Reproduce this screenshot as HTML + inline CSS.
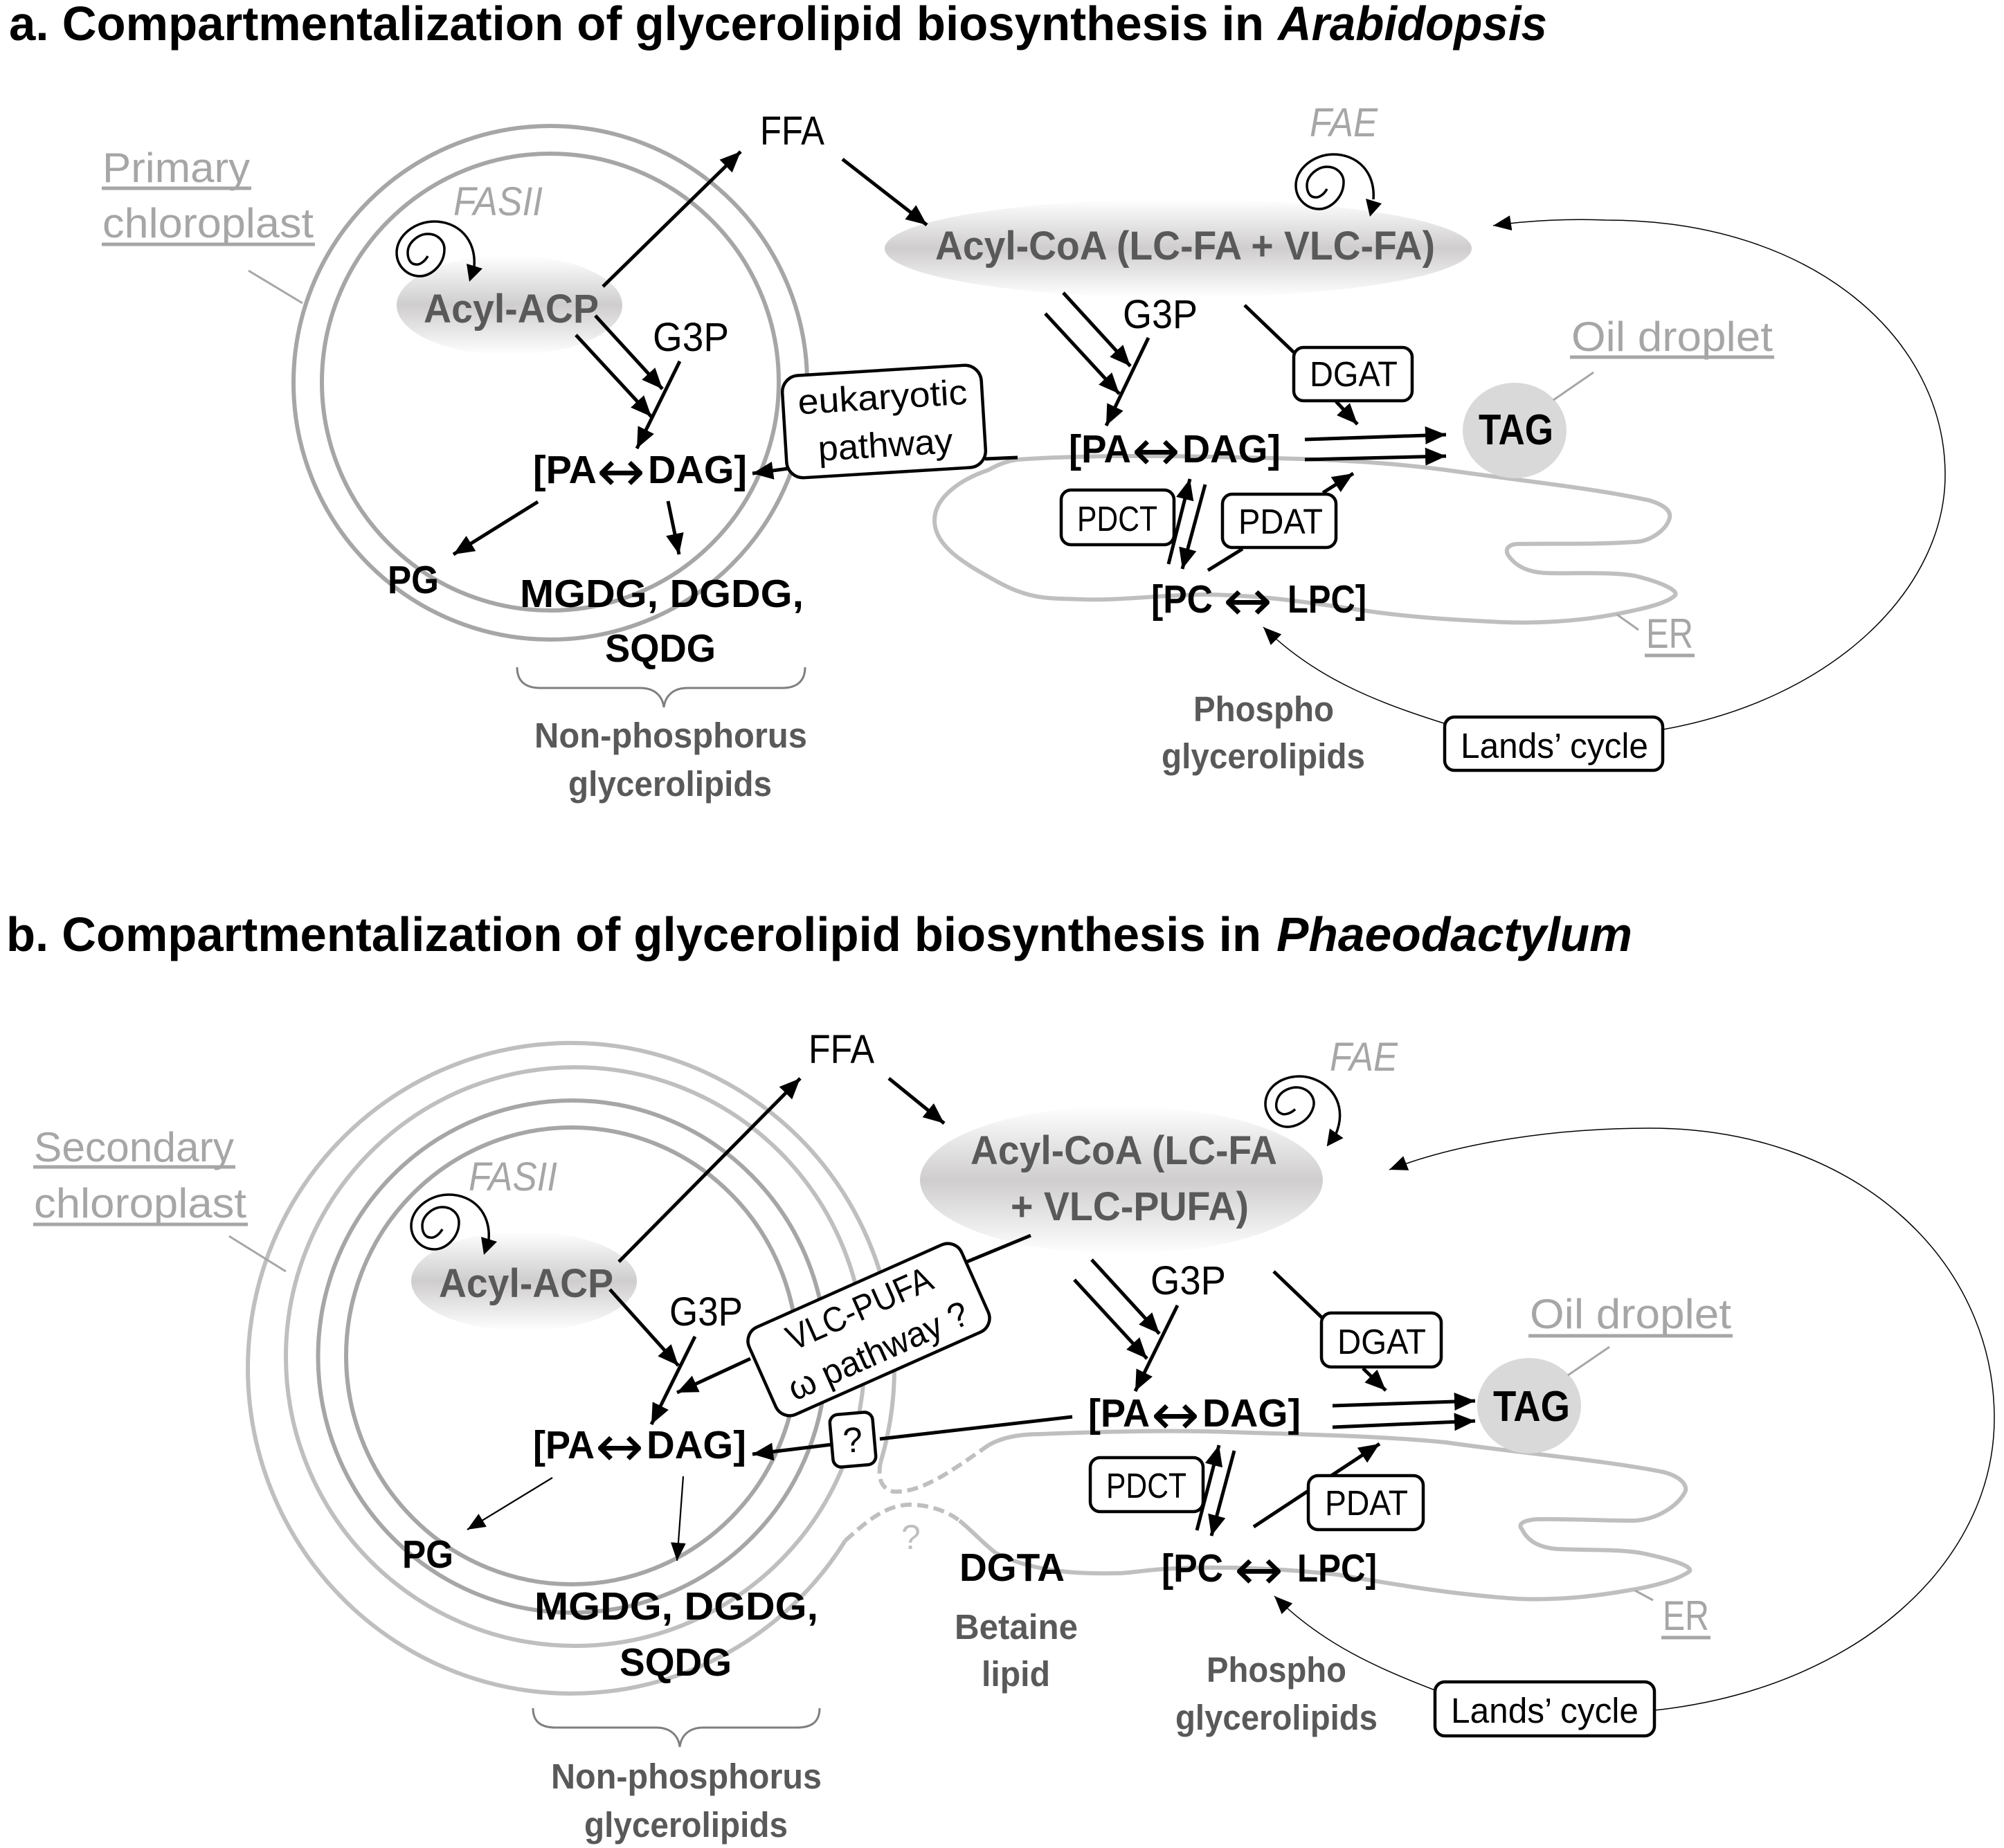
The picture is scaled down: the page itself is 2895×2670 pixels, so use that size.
<!DOCTYPE html>
<html><head><meta charset="utf-8"><style>
html,body{margin:0;padding:0;background:#fff}
svg{display:block}
text{font-family:"Liberation Sans",sans-serif}
.r{font-size:58px;fill:#000}
.b{font-size:57px;font-weight:700;fill:#000}
.ar{font-size:82px;fill:#000;font-family:"DejaVu Sans",sans-serif}
.h{font-size:70px;font-weight:700;fill:#000}
.hi{font-size:70px;font-weight:700;font-style:italic;fill:#000}
.gb{font-size:58px;font-weight:700;fill:#595959}
.gs{font-size:51px;font-weight:700;fill:#595959}
.l{font-size:60px;fill:#a6a6a6}
.i{font-size:58px;font-style:italic;fill:#a6a6a6}
.bx{font-size:51px;fill:#000}
.tag{font-size:62px;font-weight:700;fill:#000}
.a{stroke:#000;stroke-width:5;fill:none;marker-end:url(#m)}
.t{stroke:#000;stroke-width:2.2;fill:none;marker-end:url(#m2)}
.n{stroke:#000;stroke-width:5;fill:none}
.c{stroke:#000;stroke-width:1.5;fill:none;marker-end:url(#m2)}
.u{stroke:#a6a6a6;stroke-width:5;fill:none}
.lead{stroke:#a6a6a6;stroke-width:3;fill:none}
.box{fill:#fff;stroke:#000;stroke-width:4.5}
.er{fill:none;stroke:#bfbfbf;stroke-width:6;stroke-linejoin:round}
.dash{fill:none;stroke:#bfbfbf;stroke-width:6;stroke-dasharray:16 8}
.brace{fill:none;stroke:#7f7f7f;stroke-width:3}
.sp{fill:none;stroke:#000;stroke-width:3.5}
</style></head><body>
<svg xmlns="http://www.w3.org/2000/svg" width="2895" height="2670" viewBox="0 0 2895 2670">
<defs>
<marker id="m" markerUnits="userSpaceOnUse" markerWidth="30" markerHeight="26" refX="30" refY="13" orient="auto"><path d="M0,0L30,13L0,26z" fill="#000"/></marker>
<marker id="m2" markerUnits="userSpaceOnUse" markerWidth="26" markerHeight="22" refX="26" refY="11" orient="auto"><path d="M0,0L26,11L0,22z" fill="#000"/></marker>
<linearGradient id="g" x1="0" y1="0" x2="0" y2="1"><stop offset="0" stop-color="#fff"/><stop offset=".5" stop-color="#cfcdcd"/><stop offset="1" stop-color="#fff"/></linearGradient>
</defs>

<!-- Titles -->
<text class="h" x="13" y="58" textLength="1813" lengthAdjust="spacingAndGlyphs">a. Compartmentalization of glycerolipid biosynthesis in</text>
<text class="hi" x="1846" y="58" textLength="389" lengthAdjust="spacingAndGlyphs">Arabidopsis</text>
<text class="h" x="9" y="1374" textLength="1813" lengthAdjust="spacingAndGlyphs">b. Compartmentalization of glycerolipid biosynthesis in</text>
<text class="hi" x="1844" y="1374" textLength="514" lengthAdjust="spacingAndGlyphs">Phaeodactylum</text>

<!-- ===== PANEL A ===== -->
<circle cx="795" cy="553" r="371" fill="none" stroke="#a6a6a6" stroke-width="6"/>
<circle cx="795" cy="552" r="330" fill="none" stroke="#a6a6a6" stroke-width="6"/>
<path class="er" d="M1470,664C1600,655 1760,660 1879,663C1960,666 2020,670 2089,679C2200,695 2300,705 2383,723C2405,730 2414,738 2412,748C2408,765 2385,782 2362,783C2300,787 2240,785 2190,786C2176,788 2174,796 2180,804C2192,820 2210,827 2235,828C2280,829 2330,826 2362,832C2395,840 2425,852 2420,860C2410,870 2385,877 2351,884C2290,897 2230,901 2173,899C2110,896 2050,893 1984,884C1900,872 1830,860 1743,859C1680,859 1620,868 1565,866C1520,864 1490,868 1440,840C1395,815 1350,790 1350,752C1350,715 1395,690 1428,679C1440,672 1455,666 1470,664Z"/>
<ellipse cx="736" cy="441" rx="163" ry="72" fill="url(#g)"/>
<ellipse cx="1702" cy="359" rx="424" ry="71" fill="url(#g)"/>
<ellipse cx="2188" cy="622" rx="75" ry="69" fill="#d9d9d9"/>

<text class="l" x="148" y="263" textLength="213" lengthAdjust="spacingAndGlyphs">Primary</text>
<path class="u" d="M147,272H363"/>
<text class="l" x="148" y="343" textLength="305" lengthAdjust="spacingAndGlyphs">chloroplast</text>
<path class="u" d="M147,353H455"/>
<path class="lead" d="M359,391L437,438"/>
<text class="i" x="655" y="311" textLength="129" lengthAdjust="spacingAndGlyphs">FASII</text>

<g transform="translate(608,362)"><path class="sp" d="M10,8C5,17 -3,21 -7,20C-15,20 -19,12 -19,3C-19,-12 -3,-24 10,-24C24,-24 34,-14 34,-2C34,20 15,37 -1,37C-20,37 -35,22 -35,3C-35,-22 -8,-42 19,-42C55,-42 80,-15 77,23"/><path d="M70,45L66,19L89,26z"/></g>
<g transform="translate(1907,265)"><path class="sp" d="M10,8C5,17 -3,21 -7,20C-15,20 -19,12 -19,3C-19,-12 -3,-24 10,-24C24,-24 34,-14 34,-2C34,20 15,37 -1,37C-20,37 -35,22 -35,3C-35,-22 -8,-42 19,-42C55,-42 80,-15 77,23"/><path d="M72,48L66,22L89,29z"/></g>

<text class="gb" x="612" y="466" textLength="253" lengthAdjust="spacingAndGlyphs">Acyl-ACP</text>
<text class="r" x="1098" y="209" textLength="93" lengthAdjust="spacingAndGlyphs">FFA</text>
<path class="a" d="M871,414L1070,219"/>
<path class="a" d="M1217,230L1339,325"/>
<path class="a" d="M860,456L957,562"/>
<path class="a" d="M832,484L941,602"/>
<text class="r" x="943" y="507" textLength="110" lengthAdjust="spacingAndGlyphs">G3P</text>
<path class="a" d="M982,522L920,648"/>
<text class="b" x="770" y="698" textLength="92" lengthAdjust="spacingAndGlyphs">[PA</text>
<text class="ar" x="862" y="709" textLength="70" lengthAdjust="spacingAndGlyphs">↔</text>
<text class="b" x="936" y="698" textLength="143" lengthAdjust="spacingAndGlyphs">DAG]</text>

<path class="a" d="M1138,677L1087,684"/>
<path class="n" d="M1423,663L1470,661"/>
<g transform="rotate(-3.5 1277 609)"><rect class="box" x="1133" y="535" width="288" height="148" rx="24"/>
<text class="bx" x="1277" y="591" text-anchor="middle" textLength="245" lengthAdjust="spacingAndGlyphs">eukaryotic</text>
<text class="bx" x="1277" y="660" text-anchor="middle" textLength="195" lengthAdjust="spacingAndGlyphs">pathway</text></g>

<path class="a" d="M777,725L655,801"/>
<path class="a" d="M965,724L981,801"/>
<text class="b" x="560" y="857" textLength="74" lengthAdjust="spacingAndGlyphs">PG</text>
<text class="b" x="751" y="877" textLength="410" lengthAdjust="spacingAndGlyphs">MGDG, DGDG,</text>
<text class="b" x="874" y="956" textLength="160" lengthAdjust="spacingAndGlyphs">SQDG</text>
<path class="brace" d="M747,964C747,985 760,994 780,994L925,994C945,994 957,1005 959,1022C961,1005 973,994 993,994L1130,994C1150,994 1163,985 1163,964"/>
<text class="gs" x="772" y="1080" textLength="394" lengthAdjust="spacingAndGlyphs">Non-phosphorus</text>
<text class="gs" x="821" y="1150" textLength="294" lengthAdjust="spacingAndGlyphs">glycerolipids</text>

<text class="i" x="1892" y="197" textLength="98" lengthAdjust="spacingAndGlyphs">FAE</text>
<text class="gb" x="1351" y="375" textLength="722" lengthAdjust="spacingAndGlyphs">Acyl-CoA (LC-FA + VLC-FA)</text>
<text class="r" x="1622" y="474" textLength="108" lengthAdjust="spacingAndGlyphs">G3P</text>
<path class="a" d="M1536,423L1633,529"/>
<path class="a" d="M1510,453L1617,569"/>
<path class="a" d="M1659,488L1598,615"/>
<path class="n" d="M1798,441L1869,509"/>
<rect class="box" x="1869" y="502" width="171" height="77" rx="14"/>
<text class="bx" x="1892" y="558" textLength="127" lengthAdjust="spacingAndGlyphs">DGAT</text>
<path class="a" d="M1930,580L1961,613"/>
<text class="b" x="1544" y="668" textLength="90" lengthAdjust="spacingAndGlyphs">[PA</text>
<text class="ar" x="1635" y="679" textLength="70" lengthAdjust="spacingAndGlyphs">↔</text>
<text class="b" x="1708" y="668" textLength="142" lengthAdjust="spacingAndGlyphs">DAG]</text>
<path class="a" d="M1885,635L2089,628"/>
<path class="a" d="M1885,664L2089,659"/>
<text class="tag" x="2136" y="642" textLength="108" lengthAdjust="spacingAndGlyphs">TAG</text>
<text class="l" x="2270" y="507" textLength="291" lengthAdjust="spacingAndGlyphs">Oil droplet</text>
<path class="u" d="M2268,516H2563"/>
<path class="lead" d="M2302,538L2244,578"/>

<rect class="box" x="1533" y="708" width="163" height="79" rx="14"/>
<text class="bx" x="1556" y="767" textLength="116" lengthAdjust="spacingAndGlyphs">PDCT</text>
<path class="a" d="M1688,815L1719,692"/>
<path class="a" d="M1741,700L1708,822"/>
<path class="n" d="M1745,824L1795,793"/>
<path class="a" d="M1911,712L1955,684"/>
<rect class="box" x="1766" y="714" width="164" height="77" rx="14"/>
<text class="bx" x="1789" y="771" textLength="122" lengthAdjust="spacingAndGlyphs">PDAT</text>
<text class="b" x="1663" y="885" textLength="89" lengthAdjust="spacingAndGlyphs">[PC</text>
<text class="ar" x="1767" y="896" textLength="71" lengthAdjust="spacingAndGlyphs">↔</text>
<text class="b" x="1860" y="885" textLength="114" lengthAdjust="spacingAndGlyphs">LPC]</text>

<text class="l" x="2378" y="936" textLength="68" lengthAdjust="spacingAndGlyphs">ER</text>
<path class="u" d="M2376,947H2448"/>
<path class="lead" d="M2336,888L2367,910"/>
<text class="gs" x="1724" y="1042" textLength="203" lengthAdjust="spacingAndGlyphs">Phospho</text>
<text class="gs" x="1678" y="1110" textLength="294" lengthAdjust="spacingAndGlyphs">glycerolipids</text>
<path class="c" d="M2089,1046C1990,1015 1900,980 1825,906"/>
<path class="c" d="M2402,1054C2650,1010 2810,850 2810,686C2810,490 2620,318 2320,318C2270,316 2210,318 2157,326"/>
<rect class="box" x="2087" y="1036" width="315" height="77" rx="14"/>
<text class="bx" x="2110" y="1095" textLength="271" lengthAdjust="spacingAndGlyphs">Lands’ cycle</text>

<!-- ===== PANEL B ===== -->
<path fill="none" stroke="#bfbfbf" stroke-width="6" d="M1221,2226A467,470 0 1 1 1272,2113"/>
<path class="dash" d="M1272,2113C1268,2135 1272,2150 1290,2155C1330,2158 1375,2125 1428,2088"/>
<path class="dash" d="M1221,2226C1250,2200 1280,2172 1320,2174C1350,2176 1372,2186 1386,2197"/>
<circle cx="831" cy="1960" r="418" fill="none" stroke="#bfbfbf" stroke-width="6"/>
<ellipse cx="826.5" cy="1960" rx="367" ry="370" fill="none" stroke="#a6a6a6" stroke-width="6"/>
<ellipse cx="826" cy="1959" rx="326" ry="330" fill="none" stroke="#a6a6a6" stroke-width="6"/>
<path class="er" d="M1428,2088C1450,2075 1480,2072 1502,2072C1600,2068 1690,2066 1775,2069C1900,2073 2000,2075 2089,2084C2200,2100 2320,2110 2404,2127C2425,2133 2437,2143 2435,2154C2425,2175 2395,2195 2362,2197C2310,2197 2260,2194 2220,2195C2197,2197 2193,2203 2199,2210C2208,2228 2225,2236 2250,2238C2290,2240 2340,2238 2372,2244C2410,2252 2445,2262 2441,2270C2425,2282 2390,2292 2351,2298C2295,2308 2245,2312 2194,2310C2100,2304 2020,2290 1932,2275C1850,2266 1760,2262 1680,2267C1650,2269 1630,2273 1617,2273C1570,2274 1540,2272 1512,2267C1480,2262 1455,2252 1439,2244C1420,2230 1405,2212 1386,2197"/>
<ellipse cx="757" cy="1851" rx="163" ry="72" fill="url(#g)"/>
<ellipse cx="1620" cy="1705" rx="291" ry="107" fill="url(#g)"/>
<ellipse cx="2209" cy="2031" rx="75" ry="69" fill="#d9d9d9"/>

<text class="l" x="49" y="1678" textLength="289" lengthAdjust="spacingAndGlyphs">Secondary</text>
<path class="u" d="M48,1686H340"/>
<text class="l" x="49" y="1759" textLength="307" lengthAdjust="spacingAndGlyphs">chloroplast</text>
<path class="u" d="M48,1769H358"/>
<path class="lead" d="M331,1786L413,1837"/>
<text class="i" x="677" y="1720" textLength="128" lengthAdjust="spacingAndGlyphs">FASII</text>
<g transform="translate(629,1768)"><path class="sp" d="M10,8C5,17 -3,21 -7,20C-15,20 -19,12 -19,3C-19,-12 -3,-24 10,-24C24,-24 34,-14 34,-2C34,20 15,37 -1,37C-20,37 -35,22 -35,3C-35,-22 -8,-42 19,-42C55,-42 80,-15 77,23"/><path d="M70,45L66,19L89,26z"/></g>
<g transform="translate(1864,1592) rotate(18)"><path class="sp" d="M10,8C5,17 -3,21 -7,20C-15,20 -19,12 -19,3C-19,-12 -3,-24 10,-24C24,-24 34,-14 34,-2C34,20 15,37 -1,37C-20,37 -35,22 -35,3C-35,-22 -8,-42 19,-42C55,-42 80,-15 77,23"/><path d="M70,45L66,19L89,26z"/></g>
<text class="gb" x="634" y="1874" textLength="252" lengthAdjust="spacingAndGlyphs">Acyl-ACP</text>
<text class="r" x="1168" y="1536" textLength="95" lengthAdjust="spacingAndGlyphs">FFA</text>
<path class="a" d="M894,1823L1156,1558"/>
<path class="a" d="M1284,1558L1364,1623"/>
<path class="a" d="M881,1863L980,1973"/>
<text class="r" x="967" y="1915" textLength="106" lengthAdjust="spacingAndGlyphs">G3P</text>
<path class="a" d="M1004,1931L941,2058"/>
<text class="b" x="770" y="2107" textLength="89" lengthAdjust="spacingAndGlyphs">[PA</text>
<text class="ar" x="860" y="2118" textLength="70" lengthAdjust="spacingAndGlyphs">↔</text>
<text class="b" x="934" y="2107" textLength="144" lengthAdjust="spacingAndGlyphs">DAG]</text>

<path class="n" d="M1489,1785L1397,1823"/>
<path class="a" d="M1084,1963L978,2012"/>
<g transform="rotate(-24 1255 1921)"><rect class="box" x="1087" y="1852" width="336" height="138" rx="22"/>
<text class="bx" x="1255" y="1905" text-anchor="middle" textLength="225" lengthAdjust="spacingAndGlyphs">VLC-PUFA</text>
<text class="bx" x="1255" y="1972" text-anchor="middle" textLength="280" lengthAdjust="spacingAndGlyphs">ω pathway ?</text></g>

<path class="n" d="M1549,2047L1271,2079"/>
<path class="a" d="M1202,2087L1087,2101"/>
<g transform="rotate(-5 1232 2080)"><rect class="box" x="1201" y="2042" width="62" height="76" rx="12"/>
<text class="bx" x="1232" y="2098" text-anchor="middle">?</text></g>

<path class="t" d="M798,2135L675,2210"/>
<path class="t" d="M987,2133L978,2255"/>
<text class="b" x="581" y="2265" textLength="74" lengthAdjust="spacingAndGlyphs">PG</text>
<text class="b" x="772" y="2340" textLength="410" lengthAdjust="spacingAndGlyphs">MGDG, DGDG,</text>
<text class="b" x="895" y="2421" textLength="162" lengthAdjust="spacingAndGlyphs">SQDG</text>
<path class="brace" d="M770,2468C770,2489 783,2496 803,2496L948,2496C968,2496 980,2507 982,2524C984,2507 996,2496 1016,2496L1151,2496C1171,2496 1184,2489 1184,2468"/>
<text class="gs" x="796" y="2584" textLength="391" lengthAdjust="spacingAndGlyphs">Non-phosphorus</text>
<text class="gs" x="844" y="2654" textLength="294" lengthAdjust="spacingAndGlyphs">glycerolipids</text>
<text x="1302" y="2238" style="font-size:50px;fill:#bfbfbf">?</text>

<text class="i" x="1921" y="1547" textLength="98" lengthAdjust="spacingAndGlyphs">FAE</text>
<text class="gb" x="1402" y="1682" textLength="443" lengthAdjust="spacingAndGlyphs">Acyl-CoA (LC-FA</text>
<text class="gb" x="1460" y="1763" textLength="344" lengthAdjust="spacingAndGlyphs">+ VLC-PUFA)</text>
<text class="r" x="1662" y="1870" textLength="109" lengthAdjust="spacingAndGlyphs">G3P</text>
<path class="a" d="M1577,1820L1675,1927"/>
<path class="a" d="M1552,1849L1657,1963"/>
<path class="a" d="M1701,1886L1640,2010"/>
<path class="n" d="M1840,1837L1911,1905"/>
<rect class="box" x="1909" y="1897" width="173" height="78" rx="14"/>
<text class="bx" x="1932" y="1956" textLength="128" lengthAdjust="spacingAndGlyphs">DGAT</text>
<path class="a" d="M1969,1977L2002,2009"/>
<text class="b" x="1572" y="2061" textLength="89" lengthAdjust="spacingAndGlyphs">[PA</text>
<text class="ar" x="1663" y="2072" textLength="70" lengthAdjust="spacingAndGlyphs">↔</text>
<text class="b" x="1737" y="2061" textLength="142" lengthAdjust="spacingAndGlyphs">DAG]</text>
<path class="a" d="M1925,2031L2131,2024"/>
<path class="a" d="M1925,2062L2131,2053"/>
<text class="tag" x="2157" y="2053" textLength="111" lengthAdjust="spacingAndGlyphs">TAG</text>
<text class="l" x="2210" y="1919" textLength="291" lengthAdjust="spacingAndGlyphs">Oil droplet</text>
<path class="u" d="M2208,1930H2503"/>
<path class="lead" d="M2325,1946L2265,1987"/>

<rect class="box" x="1575" y="2106" width="163" height="78" rx="14"/>
<text class="bx" x="1598" y="2164" textLength="116" lengthAdjust="spacingAndGlyphs">PDCT</text>
<path class="a" d="M1729,2211L1761,2088"/>
<path class="a" d="M1783,2096L1750,2219"/>
<path class="a" d="M1811,2206L1993,2086"/>
<rect class="box" x="1890" y="2132" width="166" height="78" rx="14"/>
<text class="bx" x="1914" y="2189" textLength="120" lengthAdjust="spacingAndGlyphs">PDAT</text>
<text class="b" x="1678" y="2285" textLength="89" lengthAdjust="spacingAndGlyphs">[PC</text>
<text class="ar" x="1783" y="2296" textLength="71" lengthAdjust="spacingAndGlyphs">↔</text>
<text class="b" x="1874" y="2285" textLength="115" lengthAdjust="spacingAndGlyphs">LPC]</text>
<text class="b" x="1386" y="2284" textLength="152" lengthAdjust="spacingAndGlyphs">DGTA</text>
<text class="gs" x="1379" y="2368" textLength="178" lengthAdjust="spacingAndGlyphs">Betaine</text>
<text class="gs" x="1418" y="2436" textLength="99" lengthAdjust="spacingAndGlyphs">lipid</text>
<text class="l" x="2402" y="2355" textLength="67" lengthAdjust="spacingAndGlyphs">ER</text>
<path class="u" d="M2400,2366H2471"/>
<path class="lead" d="M2362,2298L2388,2312"/>
<text class="gs" x="1743" y="2430" textLength="202" lengthAdjust="spacingAndGlyphs">Phospho</text>
<text class="gs" x="1698" y="2499" textLength="292" lengthAdjust="spacingAndGlyphs">glycerolipids</text>
<path class="c" d="M2073,2442C1990,2410 1910,2375 1841,2306"/>
<path class="c" d="M2390,2471C2680,2440 2881,2260 2881,2049C2881,1820 2680,1630 2383,1630C2250,1630 2110,1650 2007,1690"/>
<rect class="box" x="2073" y="2430" width="317" height="78" rx="14"/>
<text class="bx" x="2096" y="2489" textLength="271" lengthAdjust="spacingAndGlyphs">Lands’ cycle</text>
</svg>
</body></html>
